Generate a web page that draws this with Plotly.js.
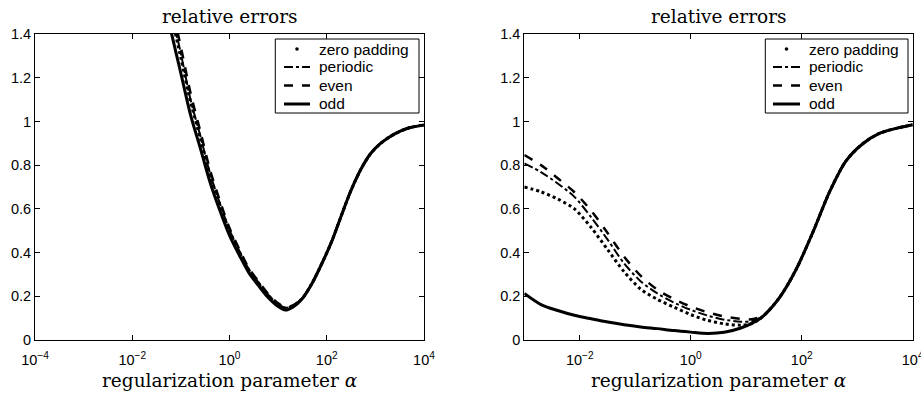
<!DOCTYPE html>
<html>
<head>
<meta charset="utf-8">
<script src="https://cdn.plot.ly/plotly-3.0.1.min.js"></script>
<style>html,body{margin:0;padding:0;background:#fff;}#chart{width:921px;height:393px;}</style>
</head>
<body>
<div id="chart"></div>
<script>
// ---- Left panel data ----
const alphaLeft = [0.05, 0.063, 0.1, 0.158, 0.251, 0.398, 0.631, 1, 1.585, 2.51, 3.98, 6.31, 10, 14.1, 20, 31.6, 50.1, 79.4, 126, 200, 316, 501, 794, 1259, 1995, 3162, 5012, 10000];
const leftZero     = [1.59, 1.49, 1.29, 1.09, 0.924, 0.755, 0.620, 0.499, 0.405, 0.320, 0.260, 0.203, 0.162, 0.145, 0.154, 0.191, 0.26, 0.35, 0.45, 0.57, 0.685, 0.78, 0.852, 0.898, 0.930, 0.954, 0.971, 0.984];
const leftPeriodic = [1.61, 1.51, 1.31, 1.10, 0.934, 0.762, 0.626, 0.503, 0.409, 0.323, 0.262, 0.206, 0.164, 0.148, 0.156, 0.192, 0.26, 0.35, 0.45, 0.57, 0.685, 0.78, 0.852, 0.898, 0.930, 0.954, 0.971, 0.984];
const leftEven     = [1.65, 1.54, 1.34, 1.13, 0.955, 0.778, 0.638, 0.512, 0.416, 0.328, 0.267, 0.210, 0.168, 0.151, 0.158, 0.193, 0.26, 0.35, 0.45, 0.57, 0.685, 0.78, 0.852, 0.898, 0.930, 0.954, 0.971, 0.984];
const leftOdd      = [1.51, 1.41, 1.22, 1.03, 0.878, 0.722, 0.594, 0.479, 0.389, 0.307, 0.248, 0.193, 0.153, 0.137, 0.150, 0.19, 0.26, 0.35, 0.45, 0.57, 0.685, 0.78, 0.852, 0.898, 0.930, 0.954, 0.971, 0.984];

// ---- Right panel data ----
const alphaRight = [0.001, 0.002, 0.004, 0.008, 0.016, 0.032, 0.063, 0.126, 0.25, 0.5, 1, 2, 4, 8, 12.6, 20, 40, 80, 160, 320, 630, 1260, 2500, 5000, 10000];
const rightZero     = [0.700, 0.678, 0.645, 0.600, 0.515, 0.412, 0.312, 0.232, 0.186, 0.150, 0.116, 0.090, 0.074, 0.068, 0.075, 0.108, 0.195, 0.325, 0.495, 0.68, 0.82, 0.898, 0.945, 0.968, 0.985];
const rightPeriodic = [0.808, 0.768, 0.716, 0.655, 0.562, 0.458, 0.350, 0.268, 0.213, 0.171, 0.138, 0.112, 0.093, 0.084, 0.086, 0.110, 0.195, 0.325, 0.495, 0.68, 0.82, 0.898, 0.945, 0.968, 0.985];
const rightEven     = [0.846, 0.800, 0.740, 0.676, 0.592, 0.488, 0.381, 0.293, 0.230, 0.187, 0.153, 0.127, 0.108, 0.097, 0.095, 0.112, 0.195, 0.325, 0.495, 0.68, 0.82, 0.898, 0.945, 0.968, 0.985];
const rightOdd      = [0.213, 0.162, 0.135, 0.113, 0.097, 0.082, 0.070, 0.060, 0.052, 0.043, 0.036, 0.030, 0.035, 0.055, 0.076, 0.108, 0.195, 0.325, 0.495, 0.68, 0.82, 0.898, 0.945, 0.968, 0.985];

const seriesNames = ["zero padding", "periodic", "even", "odd"];
const panelTitle = "relative errors";
const xTitle = "regularization parameter <i>α</i>";
const leftTickVals = [1e-4, 1e-2, 1, 1e2, 1e4];
const leftTickText = ["10<sup>−4</sup>", "10<sup>−2</sup>", "10<sup>0</sup>", "10<sup>2</sup>", "10<sup>4</sup>"];
const rightTickVals = [1e-2, 1, 1e2, 1e4];
const rightTickText = ["10<sup>−2</sup>", "10<sup>0</sup>", "10<sup>2</sup>", "10<sup>4</sup>"];
const yTickVals = [0, 0.2, 0.4, 0.6, 0.8, 1, 1.2, 1.4];

const styles = [
  {dash: "dot", width: 3},
  {dash: "dashdot", width: 2},
  {dash: "dash", width: 2.5},
  {dash: "solid", width: 3}
];

function mk(x, y, i, xa, ya) {
  return {
    x: x, y: y, type: "scatter", mode: "lines", name: seriesNames[i],
    xaxis: xa, yaxis: ya, showlegend: false,
    line: {color: "#000", dash: styles[i].dash, width: styles[i].width, shape: "spline", smoothing: 0.8}
  };
}

const traces = [
  mk(alphaLeft, leftZero, 0, "x", "y"),
  mk(alphaLeft, leftPeriodic, 1, "x", "y"),
  mk(alphaLeft, leftEven, 2, "x", "y"),
  mk(alphaLeft, leftOdd, 3, "x", "y"),
  mk(alphaRight, rightZero, 0, "x2", "y2"),
  mk(alphaRight, rightPeriodic, 1, "x2", "y2"),
  mk(alphaRight, rightEven, 2, "x2", "y2"),
  mk(alphaRight, rightOdd, 3, "x2", "y2")
];

const W = 921;
const PT = 34, PB = 340, PH = PB - PT;
const px = v => v / W;            // pixel x -> paper
const py = v => (PB - v) / PH;    // pixel y -> paper

const tickFont = {family: "Liberation Sans, Arial, sans-serif", size: 14.5, color: "#000"};
const axisCommon = {
  showline: true, linecolor: "#000", linewidth: 1, mirror: "ticks",
  ticks: "inside", ticklen: 5, tickcolor: "#000", tickwidth: 1,
  showgrid: false, zeroline: false, tickfont: tickFont, fixedrange: true,
  ticklabeloverflow: "allow"
};

const serif = {family: "DejaVu Serif, serif", size: 18.5, color: "#000"};
const legendFont = {family: "Liberation Sans, Arial, sans-serif", size: 15.5, color: "#000"};

// manual legends (box, samples, labels)
const shapes = [];
const annotations = [];
const rowY = [49, 67, 85.5, 104];
function addLegend(boxL, boxR, sampL, sampR, textL) {
  shapes.push({type: "rect", xref: "paper", yref: "paper", x0: px(boxL), x1: px(boxR), y0: py(39), y1: py(113),
    line: {color: "#000", width: 1}, fillcolor: "#fff", layer: "above"});
  // zero padding: single dot
  const cx = (sampL + sampR) / 2;
  shapes.push({type: "circle", xref: "paper", yref: "paper", x0: px(cx - 1.8), x1: px(cx + 1.8), y0: py(rowY[0] + 1.8), y1: py(rowY[0] - 1.8),
    line: {color: "#000", width: 0}, fillcolor: "#000", layer: "above"});
  for (let i = 1; i < 4; i++) {
    shapes.push({type: "line", xref: "paper", yref: "paper", x0: px(sampL), x1: px(sampR), y0: py(rowY[i]), y1: py(rowY[i]),
      line: {color: "#000", width: styles[i].width, dash: styles[i].dash}, layer: "above"});
  }
  for (let i = 0; i < 4; i++) {
    annotations.push({text: seriesNames[i], xref: "paper", yref: "paper", x: px(textL), y: py(rowY[i]),
      xanchor: "left", yanchor: "middle", showarrow: false, font: legendFont});
  }
}
addLegend(275.3, 419, 284, 310, 317);
addLegend(765.3, 908, 773, 800, 807);

const leftC = (35 + 424) / 2, rightC = (524.3 + 912.7) / 2;
annotations.push(
  {text: panelTitle, xref: "paper", yref: "paper", x: px(leftC), y: py(17), xanchor: "center", yanchor: "middle", showarrow: false, font: serif},
  {text: panelTitle, xref: "paper", yref: "paper", x: px(rightC), y: py(17), xanchor: "center", yanchor: "middle", showarrow: false, font: serif},
  {text: xTitle, xref: "paper", yref: "paper", x: px(leftC), y: py(380), xanchor: "center", yanchor: "middle", showarrow: false, font: serif},
  {text: xTitle, xref: "paper", yref: "paper", x: px(rightC), y: py(380), xanchor: "center", yanchor: "middle", showarrow: false, font: serif}
);

const layout = {
  width: 921, height: 393,
  margin: {l: 0, r: 0, t: PT, b: 393 - PB},
  paper_bgcolor: "#fff", plot_bgcolor: "#fff",
  showlegend: false,
  xaxis: Object.assign({}, axisCommon, {type: "log", domain: [px(35), px(424)], range: [-4, 4], tickvals: leftTickVals, ticktext: leftTickText, anchor: "y", ticklabelstandoff: 7}),
  yaxis: Object.assign({}, axisCommon, {range: [0, 1.4], tickvals: yTickVals, anchor: "x"}),
  xaxis2: Object.assign({}, axisCommon, {type: "log", domain: [px(524.3), px(912.7)], range: [-3, 4], tickvals: rightTickVals, ticktext: rightTickText, anchor: "y2", ticklabelstandoff: 7}),
  yaxis2: Object.assign({}, axisCommon, {range: [0, 1.4], tickvals: yTickVals, anchor: "x2"}),
  shapes: shapes,
  annotations: annotations
};

Plotly.newPlot("chart", traces, layout, {staticPlot: true, displayModeBar: false});
</script>
</body>
</html>
